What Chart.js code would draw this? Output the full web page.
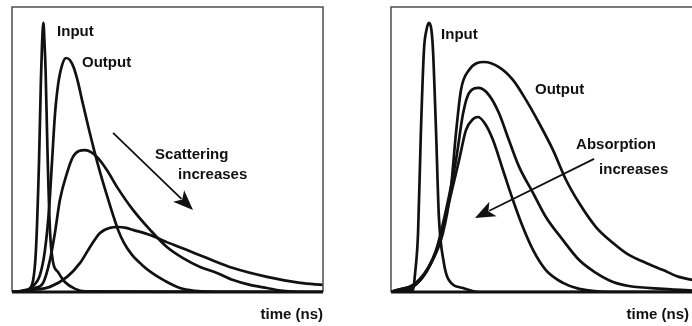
<!DOCTYPE html>
<html>
<head>
<meta charset="utf-8">
<script src="https://cdn.jsdelivr.net/npm/chart.js@4/dist/chart.umd.min.js"></script>
<style>
  html, body { margin: 0; padding: 0; background: #fff; overflow: hidden; width: 692px; height: 326px; }
  #painelA { position: absolute; left: 0; top: 0; }
  #painelB { position: absolute; left: 346px; top: 0; }
</style>
</head>
<body>
<canvas id="painelA" width="346" height="326"></canvas>
<canvas id="painelB" width="400" height="326"></canvas>
<script>
// time (ns, arbitrary) / normalised intensity

// left panel: scattering increases
const scatterInput = [[0,0],[0.42,0.004],[0.64,0.025],[0.77,0.147],[0.87,0.463],[0.93,0.744],[0.965,0.867],[1.01,0.944],[1.048,0.867],[1.08,0.779],[1.14,0.498],[1.22,0.218],[1.32,0.105],[1.48,0.07],[1.7,0.035],[2.03,0.011],[2.35,0.002],[10,0]];
const scatterOut1 = [[0,0],[0.32,0.004],[0.64,0.018],[0.9,0.06],[1.06,0.147],[1.19,0.288],[1.29,0.463],[1.38,0.621],[1.48,0.726],[1.61,0.796],[1.74,0.821],[1.86,0.814],[1.99,0.786],[2.12,0.737],[2.25,0.674],[2.44,0.586],[2.64,0.498],[2.83,0.421],[3.05,0.34],[3.25,0.27],[3.41,0.218],[3.6,0.172],[3.86,0.13],[4.18,0.095],[4.5,0.067],[4.92,0.039],[5.4,0.014],[5.88,0.004],[6.53,0],[10,0]];
const scatterOut2 = [[0,0],[0.42,0.004],[0.74,0.014],[1.0,0.032],[1.22,0.112],[1.38,0.207],[1.54,0.323],[1.77,0.418],[1.96,0.474],[2.15,0.495],[2.35,0.498],[2.54,0.491],[2.73,0.474],[3.05,0.428],[3.38,0.368],[3.89,0.288],[4.44,0.218],[4.98,0.158],[5.5,0.119],[6.05,0.088],[6.59,0.067],[7.11,0.042],[7.65,0.025],[8.2,0.014],[8.71,0.004],[9.26,0],[10,0]];
const scatterOut3 = [[0,0],[0.68,0.007],[1.22,0.018],[1.77,0.053],[2.19,0.102],[2.51,0.158],[2.83,0.207],[3.15,0.225],[3.41,0.228],[3.67,0.225],[3.89,0.218],[4.44,0.2],[4.98,0.175],[5.63,0.147],[6.27,0.119],[7.11,0.084],[8.2,0.053],[9.26,0.032],[10,0.025]];

// right panel: absorption increases
const absorbInput = [[0,0],[0.45,0.004],[0.71,0.007],[0.77,0.06],[0.87,0.207],[0.96,0.558],[1.06,0.849],[1.14,0.919],[1.22,0.944],[1.3,0.919],[1.35,0.849],[1.45,0.558],[1.54,0.263],[1.7,0.102],[1.86,0.042],[2.32,0.014],[2.83,0],[10,0]];
const absorbOut1 = [[0,0],[0.71,0.018],[1.22,0.088],[1.67,0.207],[1.93,0.368],[2.09,0.558],[2.25,0.709],[2.51,0.779],[2.99,0.807],[3.47,0.789],[3.92,0.744],[4.34,0.674],[4.76,0.593],[5.21,0.498],[5.63,0.393],[6.05,0.312],[6.59,0.228],[7.14,0.172],[7.65,0.13],[8.2,0.102],[8.75,0.077],[9.26,0.053],[9.71,0.042],[10,0.035]];
const absorbOut2 = [[0,0],[0.9,0.042],[1.45,0.147],[1.77,0.288],[2.09,0.463],[2.32,0.628],[2.51,0.698],[2.83,0.716],[3.15,0.691],[3.47,0.628],[3.79,0.533],[4.12,0.439],[4.57,0.347],[4.98,0.263],[5.53,0.182],[6.05,0.112],[6.59,0.067],[7.14,0.035],[7.65,0.021],[8.75,0.011],[10,0.004]];
const absorbOut3 = [[0,0],[1.03,0.053],[1.54,0.172],[1.86,0.312],[2.19,0.463],[2.41,0.568],[2.64,0.607],[2.8,0.614],[3.05,0.586],[3.28,0.533],[3.6,0.428],[3.92,0.323],[4.24,0.228],[4.57,0.147],[4.98,0.077],[5.53,0.032],[6.05,0.011],[7.14,0],[10,0]];

const axisTitle = 'time (ns)';

const FONTE = 'bold 15px "Liberation Sans", Arial, sans-serif';

// moldura + linha de base + setas + textos
const decoracao = {
  id: 'decoracao',
  afterDatasetsDraw(chart, args, opts) {
    const ctx = chart.ctx;
    const a = chart.chartArea;
    const sx = chart.scales.x, sy = chart.scales.y;
    ctx.save();
    // frame
    ctx.strokeStyle = '#4d4d4d';
    ctx.lineWidth = 1.5;
    ctx.beginPath();
    ctx.moveTo(a.left, a.bottom);
    ctx.lineTo(a.left, a.top);
    ctx.lineTo(a.right, a.top);
    ctx.lineTo(a.right, a.bottom);
    ctx.stroke();
    // baseline
    ctx.strokeStyle = '#111';
    ctx.lineWidth = 3;
    ctx.beginPath();
    ctx.moveTo(a.left, sy.getPixelForValue(0));
    ctx.lineTo(a.right, sy.getPixelForValue(0));
    ctx.stroke();

    // arrow
    const x0 = sx.getPixelForValue(opts.arrow[0]), y0 = sy.getPixelForValue(opts.arrow[1]);
    const x1 = sx.getPixelForValue(opts.arrow[2]), y1 = sy.getPixelForValue(opts.arrow[3]);
    const ang = Math.atan2(y1 - y0, x1 - x0);
    const len = 20, half = 8;
    const bx = x1 - len * Math.cos(ang), by = y1 - len * Math.sin(ang);
    ctx.strokeStyle = '#111';
    ctx.fillStyle = '#111';
    ctx.lineWidth = 1.8;
    ctx.beginPath();
    ctx.moveTo(x0, y0);
    ctx.lineTo(bx + 4 * Math.cos(ang), by + 4 * Math.sin(ang));
    ctx.stroke();
    ctx.beginPath();
    ctx.moveTo(x1, y1);
    ctx.lineTo(bx - half * Math.sin(ang), by + half * Math.cos(ang));
    ctx.lineTo(bx + 5 * Math.cos(ang), by + 5 * Math.sin(ang));
    ctx.lineTo(bx + half * Math.sin(ang), by - half * Math.cos(ang));
    ctx.closePath();
    ctx.fill();

    // labels
    ctx.font = FONTE;
    ctx.fillStyle = '#111';
    ctx.textBaseline = 'middle';
    ctx.textAlign = 'left';
    opts.labels.forEach(l => {
      ctx.fillText(l.text, sx.getPixelForValue(l.t), sy.getPixelForValue(l.v));
    });
    ctx.textAlign = 'right';
    ctx.fillText(axisTitle, a.left + opts.titleRight, a.bottom + 23);
    ctx.restore();
  }
};

function serie(pontos) {
  return {
    data: pontos.map(p => ({ x: p[0], y: p[1] })),
    borderColor: '#111',
    borderWidth: 2.7,
    pointRadius: 0,
    fill: false,
    cubicInterpolationMode: 'monotone'
  };
}

function criarPainel(id, curvas, padding, deco) {
  const canvas = document.getElementById(id);
  new Chart(canvas, {
    type: 'line',
    data: { datasets: curvas.map(serie) },
    options: {
      responsive: false,
      animation: false,
      events: [],
      layout: { padding },
      plugins: { legend: { display: false }, tooltip: { enabled: false }, decoracao: deco },
      scales: {
        x: { type: 'linear', min: 0, max: 10, display: false },
        y: { min: 0, max: 1, display: false }
      }
    },
    plugins: [decoracao]
  });
}

criarPainel('painelA', [scatterInput, scatterOut1, scatterOut2, scatterOut3],
  { left: 12, right: 23, top: 7, bottom: 34 },
  {
    arrow: [3.25, 0.558, 5.82, 0.288],
    titleRight: 311,
    labels: [
      { text: 'Input', t: 1.45, v: 0.912 },
      { text: 'Output', t: 2.25, v: 0.804 },
      { text: 'Scattering', t: 4.6, v: 0.481 },
      { text: 'increases', t: 5.34, v: 0.411 }
    ]
  });

criarPainel('painelB', [absorbInput, absorbOut1, absorbOut2, absorbOut3],
  { left: 45, right: 44, top: 7, bottom: 34 },
  {
    arrow: [6.53, 0.467, 2.7, 0.26],
    titleRight: 298,
    labels: [
      { text: 'Input', t: 1.61, v: 0.902 },
      { text: 'Output', t: 4.63, v: 0.709 },
      { text: 'Absorption', t: 5.95, v: 0.516 },
      { text: 'increases', t: 6.69, v: 0.428 }
    ]
  });
</script>
</body>
</html>
